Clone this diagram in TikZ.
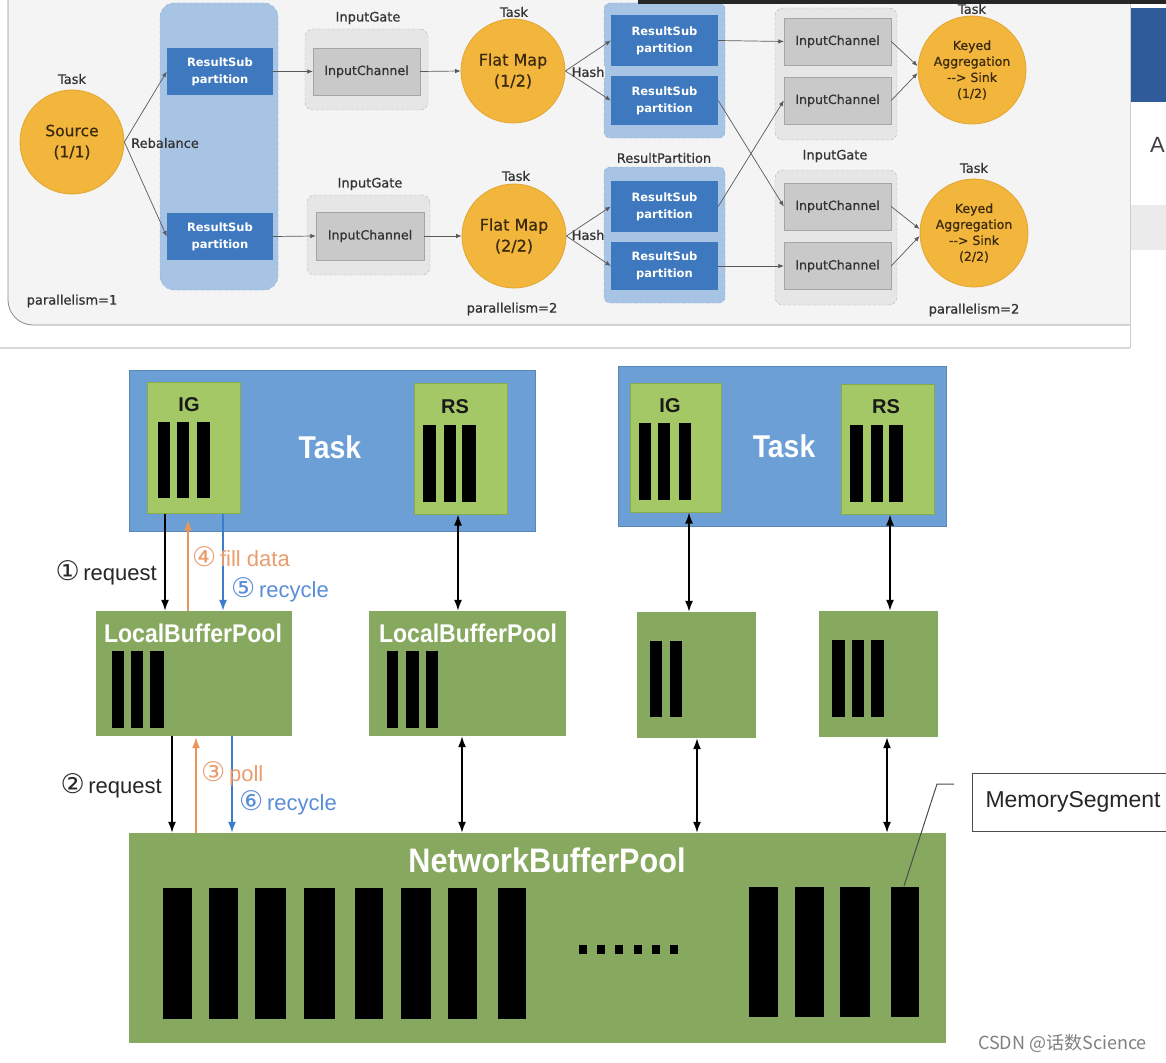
\documentclass[tikz,border=0pt]{standalone}
\usepackage{fontspec}
\setmainfont{Liberation Sans}
\newfontfamily\dejavu{DejaVu Sans}
\newfontfamily\dejavumed[FakeBold=0.7]{DejaVu Sans}
\newfontfamily\condfont[FakeStretch=0.9]{Liberation Sans}
\newfontfamily\cjkfont{Noto Sans CJK SC}
\usetikzlibrary{arrows.meta,calc}
\definecolor{panelbg}{HTML}{F4F4F4}
\definecolor{gold}{HTML}{F2B63C}
\definecolor{goldb}{HTML}{E2A532}
\definecolor{rsblue}{HTML}{3E78BE}
\definecolor{rplight}{HTML}{A8C4E4}
\definecolor{rpb}{HTML}{8AAAD4}
\definecolor{gatebg}{HTML}{E6E6E6}
\definecolor{gateb}{HTML}{B5B5B5}
\definecolor{chanbg}{HTML}{C9C9C9}
\definecolor{chanb}{HTML}{A5A5A5}
\definecolor{taskblue}{HTML}{6B9FD6}
\definecolor{lightgreen}{HTML}{A4C866}
\definecolor{lgb}{HTML}{86AC4A}
\definecolor{poolgreen}{HTML}{87A95F}
\definecolor{arrowor}{HTML}{E8955A}
\definecolor{arrowbl}{HTML}{3A7DCB}
\definecolor{textor}{HTML}{E89E6E}
\definecolor{textbl}{HTML}{5A8DD8}
\definecolor{winblue}{HTML}{2F5B9A}
\definecolor{circtext}{HTML}{3B2A0E}
\newcommand\cnum[1]{{\dejavu\fontsize{27}{27}\selectfont #1}}
\begin{document}
\begin{tikzpicture}[x=1pt,y=-1pt,
  tlabel/.style={font=\dejavumed\fontsize{13}{16}\selectfont, text=black!80, inner sep=0},
  opc/.style={circle, fill=gold, draw=goldb, line width=0.8pt, inner sep=0, minimum size=104pt, align=center, text=circtext, font=\dejavumed\fontsize{15.5}{21}\selectfont},
  rpanel/.style={draw=rpb, dashed, fill=rplight, rounded corners=14pt, inner sep=0},
  rsb/.style={fill=rsblue, inner sep=0, minimum width=106pt, minimum height=47pt, align=center, text=white, font=\dejavu\bfseries\fontsize{11.5}{17}\selectfont},
  gate/.style={draw=gateb, densely dashed, fill=gatebg, rounded corners=8pt, inner sep=0},
  chan/.style={draw=chanb, fill=chanbg, inner sep=0, minimum width=107pt, minimum height=47pt, font=\dejavumed\fontsize{12.6}{15}\selectfont, text=black!80},
  tarr/.style={draw=black!65, line width=0.7pt, -{Latex[length=5.5pt,width=4.5pt]}},
  taskbox/.style={fill=taskblue, draw=taskblue!85!black, line width=0.6pt, inner sep=0},
  gbox/.style={fill=lightgreen, draw=lgb, line width=1pt, inner sep=0},
  pool/.style={fill=poolgreen, inner sep=0},
  bigw/.style={text=white, inner sep=0},
  barlbl/.style={font=\bfseries\fontsize{20}{24}\selectfont, text=black!90, inner sep=0},
  barr/.style={draw=black, line width=1.6pt, -{Latex[length=11pt,width=8pt]}},
  dbarr/.style={draw=black, line width=1.6pt, {Latex[length=11pt,width=8pt]}-{Latex[length=11pt,width=8pt]}},
  orarr/.style={draw=arrowor, line width=1.6pt, -{Latex[length=11pt,width=8pt]}},
  blarr/.style={draw=arrowbl, line width=1.6pt, -{Latex[length=11pt,width=8pt]}},
  steplbl/.style={font=\fontsize{22}{26}\selectfont, inner sep=0}
]
\useasboundingbox (0,0) rectangle (1166,1062);
\fill[white] (0,0) rectangle (1166,1062);

% ---------- screenshot panel ----------
\fill[panelbg] (8,0) -- (8,300) arc[start angle=180,end angle=90,radius=25] -- (1130,325) -- (1130,0) -- cycle;
\draw[black!45, line width=0.8pt, rounded corners=25pt] (8,-2) -- (8,325) -- (1130,325);
\draw[black!15, line width=1.5pt] (0,348) -- (1130,348);
\draw[black!20, line width=0.8pt] (1130,0) -- (1130,348);
\fill[winblue] (1131,8) rectangle (1166,102);
\fill[black!8] (1131,205) rectangle (1166,250);
\node[anchor=west, inner sep=0, text=black!75, font=\fontsize{22}{26}\selectfont] (winA) at (1150,145) {A};

% Source
\node[tlabel] (tsrc) at (72,79) {Task};
\node[opc] (src) at (72,142) {Source\\(1/1)};
\node[rpanel, minimum width=118pt, minimum height=287pt] (rp0) at (219,146.5) {};
\node[rsb] (rs01) at (220,71.5) {ResultSub\\partition};
\node[rsb] (rs02) at (220,236.5) {ResultSub\\partition};
\node[tlabel, anchor=west] (rebal) at (131,143) {Rebalance};
\node[tlabel] (par1) at (72,301) {parallelism=1};

% Input gates (middle)
\node[tlabel] (ig1l) at (368,18) {InputGate};
\node[gate, minimum width=123pt, minimum height=81pt] (g1) at (366.5,69.5) {};
\node[chan] (ic1) at (366.5,71.5) {InputChannel};
\node[tlabel] (ig2l) at (370,184) {InputGate};
\node[gate, minimum width=123pt, minimum height=80pt] (g2) at (368.5,235) {};
\node[chan, minimum width=108pt, minimum height=48pt] (ic2) at (370,236) {InputChannel};

% Flat Map
\node[tlabel] (tfm1) at (514,12) {Task};
\node[opc, font=\dejavumed\fontsize{16}{21}\selectfont] (fm1) at (513,71) {Flat Map\\(1/2)};
\node[tlabel] (tfm2) at (516,176) {Task};
\node[opc, font=\dejavumed\fontsize{16}{21}\selectfont] (fm2) at (514,236) {Flat Map\\(2/2)};
\node[tlabel] (par2) at (512,309) {parallelism=2};

% Result partitions
\node[rpanel, rounded corners=6pt, minimum width=121pt, minimum height=135pt] (rp1) at (664.5,70.5) {};
\node[rsb, minimum width=107pt, minimum height=51pt] (rs11) at (664.5,40.5) {ResultSub\\partition};
\node[rsb, minimum width=107pt, minimum height=49pt] (rs12) at (664.5,100.5) {ResultSub\\partition};
\node[tlabel] (rpl) at (664,158) {ResultPartition};
\node[rpanel, rounded corners=6pt, minimum width=121pt, minimum height=136pt] (rp2) at (664.5,235) {};
\node[rsb, minimum width=107pt, minimum height=51pt] (rs21) at (664.5,206.5) {ResultSub\\partition};
\node[rsb, minimum width=107pt, minimum height=48pt] (rs22) at (664.5,266) {ResultSub\\partition};
\node[tlabel, anchor=west, fill=panelbg, inner sep=0.5pt] (hash1) at (571,72) {Hash};
\node[tlabel, anchor=west, inner sep=0.5pt] (hash2) at (571,235) {Hash};

% right input gates
\node[gate, minimum width=122pt, minimum height=132pt] (g3) at (836,74) {};
\node[chan] (ic31) at (837.5,41.5) {InputChannel};
\node[chan] (ic32) at (837.5,100.5) {InputChannel};
\node[tlabel] (ig4l) at (835,156) {InputGate};
\node[gate, minimum width=122pt, minimum height=135pt] (g4) at (836,237.5) {};
\node[chan] (ic41) at (837.5,206.5) {InputChannel};
\node[chan] (ic42) at (837.5,266) {InputChannel};

% Keyed aggregation
\node[tlabel] (tk1) at (972,9) {Task};
\node[opc, minimum size=108pt, font=\dejavumed\fontsize{12.5}{16}\selectfont] (k1) at (972,70) {Keyed\\Aggregation\\--> Sink\\(1/2)};
\node[tlabel] (tk2) at (974,168) {Task};
\node[opc, minimum size=108pt, font=\dejavumed\fontsize{12.5}{16}\selectfont] (k2) at (974,233) {Keyed\\Aggregation\\--> Sink\\(2/2)};
\node[tlabel] (par3) at (974,310) {parallelism=2};
\fill[black!85] (638,0) rectangle (1166,4);

% top connectors
\draw[tarr] (src.east) -- (rs01.west);
\draw[tarr] (src.east) -- (rs02.west);
\draw[tarr] (rs01.east) -- (ic1.west);
\draw[tarr] (rs02.east) -- (ic2.west);
\draw[tarr] (ic1.east) -- (fm1.west);
\draw[tarr] (ic2.east) -- (fm2.west);
\draw[tarr] (fm1.east) -- (rs11.west);
\draw[tarr] (fm1.east) -- (rs12.west);
\draw[tarr] (fm2.east) -- (rs21.west);
\draw[tarr] (fm2.east) -- (rs22.west);
\draw[tarr] (rs11.east) -- (ic31.west);
\draw[tarr] (rs12.east) -- (ic41.west);
\draw[tarr] (rs21.east) -- (ic32.west);
\draw[tarr] (rs22.east) -- (ic42.west);
\draw[tarr] (ic31.east) -- ([yshift=4pt]k1.west);
\draw[tarr] (ic32.east) -- ([yshift=-3pt]k1.west);
\draw[tarr] (ic41.east) -- ([yshift=4pt]k2.west);
\draw[tarr] (ic42.east) -- ([yshift=-3pt]k2.west);

% ---------- lower diagram ----------
\node[taskbox, minimum width=406pt, minimum height=161pt] (task1) at (332,450.5) {};
\node[gbox, minimum width=93pt, minimum height=131pt] (ig1) at (193.5,447.5) {};
\node[barlbl] (ig1l2) at (189,405) {IG};
\foreach \a/\b in {158/170,177/189,197/210} \fill[black] (\a,422) rectangle (\b,498);
\node[gbox, minimum width=93pt, minimum height=131pt] (rs1) at (460.5,448.5) {};
\node[barlbl] (rs1l) at (455,407) {RS};
\foreach \a/\b in {423/436,444/456,462/476} \fill[black] (\a,425) rectangle (\b,502);
\node[bigw, font=\condfont\bfseries\fontsize{31.5}{36}\selectfont] (task1l) at (330,447) {Task};

\node[taskbox, minimum width=328pt, minimum height=160pt] (task2) at (782,446) {};
\node[gbox, minimum width=91pt, minimum height=129pt] (ig2) at (675.5,447.5) {};
\node[barlbl] (ig2l2) at (670,406) {IG};
\foreach \a/\b in {639/651,658/670,679/691} \fill[black] (\a,423) rectangle (\b,500);
\node[gbox, minimum width=93pt, minimum height=130pt] (rs2) at (887.5,449) {};
\node[barlbl] (rs2l) at (886,407) {RS};
\foreach \a/\b in {850/863,871/883,889/903} \fill[black] (\a,425) rectangle (\b,502);
\node[bigw, font=\condfont\bfseries\fontsize{31.5}{36}\selectfont] (task2l) at (784,446) {Task};

\node[pool, minimum width=196pt, minimum height=125pt] (lbp1) at (194,673.5) {};
\node[bigw, font=\condfont\bfseries\fontsize{25.6}{30}\selectfont] (lbp1l) at (193,633) {LocalBufferPool};
\foreach \a/\b in {112/124,131/143,150/164} \fill[black] (\a,651) rectangle (\b,728);
\node[pool, minimum width=197pt, minimum height=125pt] (lbp2) at (467.5,673.5) {};
\node[bigw, font=\condfont\bfseries\fontsize{25.6}{30}\selectfont] (lbp2l) at (468,633) {LocalBufferPool};
\foreach \a/\b in {387/398,406/419,426/438} \fill[black] (\a,651) rectangle (\b,728);
\node[pool, minimum width=119pt, minimum height=126pt] (box3) at (696.5,675) {};
\foreach \a/\b in {650/662,670/682} \fill[black] (\a,641) rectangle (\b,717);
\node[pool, minimum width=119pt, minimum height=126pt] (box4) at (878.5,674) {};
\foreach \a/\b in {832/845,852/864,871/884} \fill[black] (\a,640) rectangle (\b,717);

\node[pool, minimum width=817pt, minimum height=210pt] (nbp) at (537.5,938) {};
\node[bigw, font=\condfont\bfseries\fontsize{34}{40}\selectfont] (nbpl) at (547,860) {NetworkBufferPool};
\foreach \a/\b in {163/192,209/238,255/286,304/335,355/383,401/431,448/477,498/526} \fill[black] (\a,888) rectangle (\b,1019);
\foreach \a/\b in {749/778,795/824,840/870,891/919} \fill[black] (\a,887) rectangle (\b,1017);
\foreach \i in {0,...,5} \fill[black] (579+\i*18.2,945) rectangle (587+\i*18.2,954);

% lower connectors
\draw[barr] ([xshift=-28.5pt]ig1.south) -- ([xshift=-29pt]lbp1.north);
\draw[orarr] ([xshift=-6pt]lbp1.north) -- ([xshift=-5.5pt,yshift=-6pt]ig1.south);
\draw[blarr] ([xshift=29.5pt]ig1.south) -- ([xshift=29pt]lbp1.north);
\draw[dbarr] ([xshift=-2.5pt]rs1.south) -- ([xshift=-9.5pt]lbp2.north);
\draw[dbarr] ([xshift=13.5pt]ig2.south) -- ([xshift=-7.5pt]box3.north);
\draw[dbarr] ([xshift=2.5pt]rs2.south) -- ([xshift=11.5pt]box4.north);

\draw[barr] ([xshift=-22pt]lbp1.south) -- ([xshift=-365.5pt]nbp.north);
\draw[orarr] ([xshift=-341.5pt]nbp.north) -- ([xshift=2pt,yshift=-1pt]lbp1.south);
\draw[blarr] ([xshift=38pt]lbp1.south) -- ([xshift=-305.5pt]nbp.north);
\draw[dbarr] ([xshift=-5.5pt]lbp2.south) -- ([xshift=-75.5pt]nbp.north);
\draw[dbarr] ([xshift=0.5pt]box3.south) -- ([xshift=159.5pt]nbp.north);
\draw[dbarr] ([xshift=8.5pt]box4.south) -- ([xshift=349.5pt]nbp.north);

\node[steplbl, anchor=east, text=black!85] (s1) at (157,573) {\cnum{①}\,request};
\node[steplbl, anchor=west, text=textor] (s4) at (192,557) {\cnum{④}\,fill data};
\node[steplbl, anchor=west, text=textbl] (s5) at (231,590) {\cnum{⑤}\,recycle};
\node[steplbl, anchor=east, text=black!85] (s2) at (162,786) {\cnum{②}\,request};
\node[steplbl, anchor=west, text=textor] (s3) at (201,774) {\cnum{③}\,poll};
\node[steplbl, anchor=west, text=textbl] (s6) at (239,803) {\cnum{⑥}\,recycle};

% MemorySegment callout
\node[draw=black!70, line width=1pt, anchor=west, minimum width=210pt, minimum height=58pt, text width=196pt, inner sep=0, font=\fontsize{23}{27}\selectfont, text=black!85] (ms) at (972,802) {\hspace*{6pt}MemorySegment};
\coordinate (msl) at (954,784);
\coordinate (segtop) at (904,886);
\draw[black!70, line width=1pt] (msl) -- ++(-17,0) -- (segtop);

\node[anchor=west, inner sep=0, text=black!50, font=\cjkfont\fontsize{18}{22}\selectfont] (wm) at (978,1043) {CSDN @话数Science};
\end{tikzpicture}
\end{document}
